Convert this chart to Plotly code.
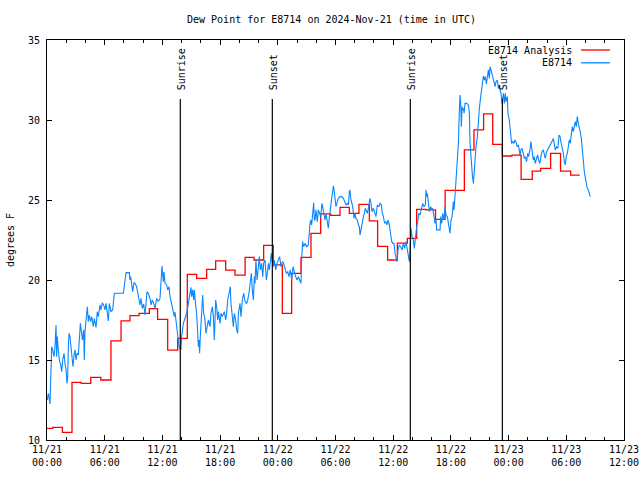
import plotly.graph_objects as go
from datetime import datetime, timedelta

base = datetime(2024, 11, 21)
title_text = "Dew Point for E8714 on 2024-Nov-21 (time in UTC)"

# Analysis (hourly, stepped): change times in hours after 11/21 00:00 UTC
red_hours = [0.0, 0.6, 1.6, 2.6, 3.55, 4.55, 5.6, 6.65, 7.7, 8.63, 9.57, 10.64, 11.5, 12.55,
             13.59, 14.59, 15.56, 16.6, 17.54, 18.58, 19.55, 20.6, 21.53, 22.53, 23.53, 24.47,
             25.44, 26.41, 27.45, 28.46, 29.5, 30.47, 31.44, 32.44, 33.52, 34.38, 35.42, 36.43,
             37.47, 38.44, 39.4, 40.4, 41.4, 42.4, 43.4, 44.4, 45.4, 46.35, 47.35, 48.35, 49.3,
             50.46, 51.33, 52.37, 53.4, 54.45, 55.4]
red_values = [10.73, 10.79, 10.48, 13.6, 13.54, 13.92, 13.75, 16.19, 17.44, 17.77, 17.92, 18.21,
              17.54, 15.62, 16.35, 20.35, 20.1, 20.67, 21.19, 20.62, 20.31, 21.42, 21.25, 22.17,
              20.94, 17.92, 20.42, 21.42, 22.92, 24.13, 24.04, 24.54, 24.17, 24.73, 23.69, 22.1,
              21.25, 22.31, 22.6, 24.42, 24.38, 23.79, 25.6, 25.6, 28.13, 29.38, 30.38, 28.48,
              27.75, 27.8, 26.29, 26.81, 26.98, 27.92, 26.81, 26.56, 26.56]

# Observations
obs_hours = [0.03, 0.14, 0.31, 0.42, 0.49, 0.59, 0.73, 0.83, 0.94, 1.0, 1.07, 1.18, 1.28, 1.42,
             1.53, 1.63, 1.77, 1.87, 1.98, 2.08, 2.15, 2.22, 2.29, 2.39, 2.5, 2.63, 2.7, 2.81,
             2.91, 3.02, 3.12, 3.26, 3.36, 3.47, 3.6, 3.68, 3.81, 3.88, 3.95, 4.06, 4.19, 4.3,
             4.4, 4.54, 4.65, 4.82, 4.92, 5.1, 5.23, 5.34, 5.51, 5.62, 5.75, 5.89, 6.03, 6.14,
             6.24, 6.38, 6.48, 6.65, 6.83, 6.93, 7.0, 7.94, 8.01, 8.11, 8.22, 8.56, 8.63, 8.7,
             8.8, 8.91, 9.05, 9.15, 9.32, 9.43, 9.57, 9.67, 9.77, 9.91, 10.05, 10.19, 10.29,
             10.4, 10.54, 10.71, 10.82, 10.95, 11.09, 11.23, 11.4, 11.58, 11.75, 11.85, 11.96,
             12.1, 12.17, 12.27, 12.44, 12.55, 12.69, 12.79, 12.95, 13.1, 13.24, 13.31, 13.48,
             13.66, 13.73, 13.93, 14.0, 14.18, 14.42, 14.52, 14.7, 14.87, 14.97, 15.04, 15.15,
             15.25, 15.32, 15.46, 15.56, 15.67, 15.74, 15.81, 15.87, 15.94, 16.08, 16.19, 16.29,
             16.43, 16.53, 16.67, 16.78, 16.95, 17.05, 17.19, 17.3, 17.4, 17.54, 17.64, 17.75,
             17.82, 17.99, 18.09, 18.23, 18.44, 18.58, 18.68, 18.79, 18.93, 19.06, 19.13, 19.27,
             19.38, 19.48, 19.62, 19.72, 19.83, 19.9, 20.07, 20.17, 20.31, 20.45, 20.59, 20.76,
             20.87, 21.0, 21.14, 21.25, 21.35, 21.46, 21.56, 21.63, 21.73, 21.84, 21.98, 22.08,
             22.18, 22.32, 22.43, 22.53, 22.67, 22.81, 22.91, 23.02, 23.12, 23.22, 23.33, 23.43,
             23.54, 23.64, 23.78, 23.92, 24.06, 24.19, 24.33, 24.47, 24.61, 24.75, 24.89, 25.03,
             25.16, 25.3, 25.44, 25.58, 25.72, 25.86, 26.0, 26.13, 26.27, 26.41, 26.48, 26.58,
             26.69, 26.83, 27.0, 27.17, 27.35, 27.45, 27.52, 27.66, 27.73, 27.8, 27.87, 27.97,
             28.11, 28.22, 28.32, 28.46, 28.6, 28.74, 28.91, 29.01, 29.15, 29.26, 29.36, 29.5,
             29.6, 29.71, 29.78, 29.85, 29.95, 30.05, 30.19, 30.3, 30.47, 30.64, 30.82, 30.99,
             31.09, 31.23, 31.34, 31.44, 31.51, 31.58, 31.68, 31.79, 31.93, 32.03, 32.13, 32.27,
             32.38, 32.48, 32.55, 32.65, 32.76, 32.9, 33.0, 33.1, 33.17, 33.31, 33.45, 33.59,
             33.69, 33.8, 33.94, 34.07, 34.21, 34.35, 34.49, 34.63, 34.77, 34.87, 34.98, 35.11,
             35.25, 35.36, 35.46, 35.6, 35.74, 35.84, 35.95, 36.08, 36.19, 36.29, 36.4, 36.5,
             36.64, 36.78, 36.92, 37.06, 37.19, 37.33, 37.47, 37.61, 37.68, 37.78, 37.85, 37.96,
             38.1, 38.2, 38.3, 38.44, 38.55, 38.65, 38.79, 38.93, 39.07, 39.2, 39.34, 39.41,
             39.48, 39.55, 39.66, 39.76, 39.9, 40.0, 40.11, 40.25, 40.35, 40.45, 40.52, 40.87,
             40.94, 41.04, 41.15, 41.29, 41.39, 41.49, 41.63, 41.74, 41.84, 41.91, 42.01, 42.12,
             42.19, 42.26, 42.33, 42.43, 42.53, 42.67, 42.78, 42.88, 42.95, 43.02, 43.09, 43.16,
             43.23, 43.3, 43.37, 43.47, 43.64, 43.82, 43.92, 43.99, 44.06, 44.13, 44.23, 44.34,
             44.41, 44.51, 44.61, 44.75, 44.86, 44.96, 45.1, 45.2, 45.31, 45.38, 45.48, 45.58,
             45.69, 45.79, 45.9, 46.0, 46.07, 46.17, 46.28, 46.38, 46.49, 46.59, 46.69, 46.83,
             46.94, 47.04, 47.11, 47.21, 47.32, 47.39, 47.46, 47.56, 47.66, 47.73, 47.87, 47.93,
             48.07, 48.21, 48.31, 48.42, 48.56, 48.66, 48.76, 48.9, 49.01, 49.11, 49.18, 49.28,
             49.39, 49.53, 49.63, 49.73, 49.87, 49.98, 50.08, 50.22, 50.32, 50.43, 50.57, 50.67,
             50.77, 50.91, 51.02, 51.12, 51.26, 51.36, 51.47, 51.61, 51.71, 51.81, 51.95, 52.06,
             52.16, 52.3, 52.4, 52.51, 52.65, 52.75, 52.85, 52.99, 53.13, 53.24, 53.34, 53.44,
             53.55, 53.69, 53.79, 53.89, 54.0, 54.1, 54.21, 54.31, 54.41, 54.52, 54.62, 54.73,
             54.83, 54.93, 55.04, 55.14, 55.25, 55.35, 55.45, 55.56, 55.66, 55.77, 55.87, 55.97,
             56.08, 56.18, 56.29, 56.39, 56.49]
obs_values = [12.5, 12.92, 12.25, 13.96, 15.83, 15.63, 15.21, 15.83, 17.19, 15.21, 16.46, 15.63,
              15.0, 14.69, 14.27, 15.0, 15.42, 14.79, 14.38, 13.54, 13.96, 15.83, 16.67, 16.46,
              15.63, 15.0, 14.58, 15.31, 15.63, 15.0, 15.42, 15.31, 16.04, 17.29, 16.67, 16.25,
              16.88, 15.0, 16.77, 17.4, 18.33, 17.4, 17.81, 17.4, 17.71, 17.08, 17.6, 17.04,
              18.02, 17.71, 18.44, 18.13, 18.58, 18.44, 18.13, 18.54, 18.08, 17.44, 18.54, 18.02,
              18.13, 18.65, 19.17, 19.17, 19.58, 20.0, 20.46, 20.46, 20.0, 20.21, 19.58, 19.27,
              19.83, 19.79, 19.58, 19.06, 18.75, 18.44, 18.85, 18.23, 18.5, 17.81, 18.75, 19.27,
              19.17, 18.85, 18.44, 18.75, 18.54, 18.23, 18.85, 18.65, 18.85, 20.21, 20.88, 19.9,
              20.5, 19.79, 19.69, 19.38, 19.58, 18.96, 18.5, 18.23, 17.71, 18.0, 17.08, 16.46,
              15.83, 15.63, 16.46, 17.29, 17.81, 17.92, 18.54, 19.38, 19.54, 18.96, 19.38, 18.75,
              19.38, 18.44, 17.92, 16.67, 15.83, 16.25, 15.42, 16.46, 17.92, 19.06, 17.92, 17.5,
              16.67, 17.08, 17.5, 17.08, 17.92, 18.33, 17.71, 16.25, 18.75, 18.33, 17.5, 18.02,
              17.29, 17.92, 17.71, 18.02, 17.5, 17.92, 18.75, 19.17, 19.58, 18.54, 17.92, 17.08,
              17.92, 17.5, 16.88, 16.67, 17.92, 18.54, 17.71, 18.75, 19.17, 18.65, 18.54, 18.75,
              19.17, 20.0, 20.42, 19.38, 18.75, 20.21, 19.79, 21.25, 20.0, 20.83, 21.46, 20.63,
              21.04, 20.21, 21.04, 21.25, 20.0, 20.42, 21.04, 20.63, 21.25, 21.67, 21.15, 20.83,
              21.25, 20.63, 21.04, 21.25, 21.46, 20.83, 21.15, 21.04, 20.63, 20.42, 20.52, 20.21,
              20.63, 20.0, 20.83, 20.42, 20.21, 20.0, 20.21, 20.0, 19.79, 21.25, 22.4, 22.08,
              22.29, 22.08, 22.19, 23.54, 23.75, 23.44, 24.38, 24.83, 23.75, 23.75, 24.38, 23.65,
              24.38, 24.17, 23.96, 24.79, 24.38, 23.75, 24.17, 23.54, 23.23, 23.96, 24.58, 25.21,
              25.52, 25.88, 25.63, 25.0, 24.58, 24.9, 25.1, 25.21, 25.21, 25.1, 24.9, 24.69,
              24.79, 24.69, 25.52, 25.63, 25.1, 24.79, 24.58, 23.85, 24.17, 23.85, 23.75, 23.44,
              23.33, 22.81, 23.23, 23.65, 23.96, 24.17, 24.48, 24.38, 24.17, 24.58, 25.1, 24.79,
              24.27, 24.48, 24.17, 23.96, 24.69, 24.58, 24.79, 24.69, 24.17, 23.96, 23.54, 23.65,
              23.44, 23.75, 23.44, 22.92, 22.4, 22.29, 22.29, 21.67, 21.35, 21.15, 21.88, 22.19,
              22.08, 21.88, 22.29, 21.98, 22.4, 21.88, 21.46, 21.15, 22.08, 23.23, 22.71, 22.5,
              21.98, 22.6, 23.33, 23.65, 24.17, 24.06, 24.48, 24.79, 24.58, 24.69, 25.63, 25.21,
              25.42, 24.58, 24.27, 24.58, 24.38, 24.48, 23.96, 23.54, 23.75, 23.13, 23.13, 23.96,
              23.54, 24.17, 23.75, 24.58, 24.06, 23.96, 23.54, 23.23, 22.92, 23.75, 23.96, 24.38,
              24.9, 24.38, 25.42, 26.35, 27.5, 28.54, 30.63, 31.56, 31.04, 29.58, 30.83, 30.63,
              30.73, 30.42, 31.04, 31.04, 30.94, 30.42, 28.54, 27.71, 27.08, 26.56, 26.04, 26.67,
              27.5, 28.33, 28.96, 30.0, 30.73, 31.46, 32.08, 32.5, 32.75, 32.5, 32.71, 32.25,
              32.71, 33.13, 32.6, 33.33, 33.13, 32.81, 32.5, 32.29, 32.08, 32.4, 32.5, 31.98,
              32.19, 31.88, 31.67, 31.04, 31.25, 31.67, 31.04, 31.67, 31.15, 31.46, 30.42, 30.0,
              29.17, 28.54, 28.65, 28.54, 28.75, 28.65, 28.33, 28.44, 28.13, 27.81, 28.13, 28.23,
              27.92, 27.6, 27.71, 27.4, 27.92, 27.71, 28.13, 28.65, 28.13, 27.5, 27.71, 27.29,
              27.6, 27.81, 27.5, 27.29, 27.71, 28.02, 28.13, 27.81, 27.6, 28.02, 28.13, 28.23,
              28.44, 28.54, 28.65, 28.85, 28.54, 28.13, 28.33, 28.23, 29.06, 29.0, 28.65, 28.33,
              27.92, 27.4, 27.19, 27.71, 27.92, 28.33, 28.75, 28.54, 29.27, 29.58, 29.27, 29.69,
              29.9, 29.58, 30.21, 29.79, 29.38, 29.27, 28.85, 28.33, 27.5, 26.77, 26.35, 26.04,
              25.73, 25.63, 25.42, 25.21]

sun_labels = ["Sunrise", "Sunset", "Sunrise", "Sunset"]
sun_hours = [13.86, 23.43, 37.78, 47.35]

series_names = ["E8714 Analysis", "E8714"]
series_colors = ["#ff0000", "#0a86ff"]


def to_time(h):
    return base + timedelta(hours=h)


MONO = "DejaVu Sans Mono"

fig = go.Figure()
fig.add_trace(go.Scatter(
    x=[to_time(h) for h in red_hours], y=red_values, mode="lines",
    name=series_names[0], line=dict(color=series_colors[0], width=1.3, shape="hv"),
    showlegend=False))
fig.add_trace(go.Scatter(
    x=[to_time(h) for h in obs_hours], y=obs_values, mode="lines",
    name=series_names[1], line=dict(color=series_colors[1], width=1.1),
    showlegend=False))

shapes = []
annotations = []
for lab, h in zip(sun_labels, sun_hours):
    t = to_time(h)
    shapes.append(dict(type="line", xref="x", yref="y domain", x0=t, x1=t, y0=0, y1=0.8525,
                       line=dict(color="black", width=1.2), layer="above"))
    annotations.append(dict(x=t, y=0.87, xref="x", yref="y domain", text=lab, textangle=-90,
                            showarrow=False, xanchor="center", yanchor="bottom", xshift=1,
                            font=dict(family=MONO, size=10, color="black")))

# Custom gnuplot-style key: text on left, line sample on right
key_y = [0.975, 0.943]
for name, color, ky in zip(series_names, series_colors, key_y):
    annotations.append(dict(x=0.9133, y=ky, xref="paper", yref="paper", text=name,
                            showarrow=False, xanchor="right", yanchor="middle",
                            font=dict(family=MONO, size=10, color="black")))
    shapes.append(dict(type="line", xref="paper", yref="paper", x0=0.9255, x1=0.9757,
                       y0=ky, y1=ky, line=dict(color=color, width=1.3)))

annotations.append(dict(x=-0.064, y=0.5, xref="paper", yref="paper", text="degrees F",
                        textangle=-90, showarrow=False, xanchor="center", yanchor="middle",
                        font=dict(family=MONO, size=10, color="black")))

fig.update_layout(
    width=640, height=480,
    margin=dict(l=47, r=16, t=40, b=40),
    paper_bgcolor="white", plot_bgcolor="white",
    title=dict(text=title_text, x=331.5 / 640, xref="container", xanchor="center",
               y=1 - 19 / 480, yref="container", yanchor="middle",
               font=dict(family=MONO, size=10, color="black")),
    shapes=shapes, annotations=annotations,
    font=dict(family=MONO, size=10, color="black"),
)
fig.update_xaxes(
    type="date", range=[to_time(0), to_time(60)],
    showline=True, linecolor="black", linewidth=1, mirror="ticks",
    ticks="inside", ticklen=5, tickcolor="black", tickwidth=1,
    tick0=to_time(0), dtick=6 * 3600 * 1000, tickformat="%m/%d<br>%H:%M",
    showgrid=False, zeroline=False, automargin=False,
    tickfont=dict(family=MONO, size=10, color="black"),
    minor=dict(dtick=2 * 3600 * 1000, ticks="inside", ticklen=3, tickcolor="black",
               showgrid=False),
)
fig.update_yaxes(
    range=[10, 35], dtick=5, tick0=10,
    showline=True, linecolor="black", linewidth=1, mirror="ticks",
    ticks="inside", ticklen=5, tickcolor="black", tickwidth=1,
    showgrid=False, zeroline=False, automargin=False, ticklabelstandoff=4,
    tickfont=dict(family=MONO, size=10, color="black"),
)

fig.write_html("out.html",
               config={"displayModeBar": False},
               post_script="document.body.style.margin='0';document.body.style.overflow='hidden';")
